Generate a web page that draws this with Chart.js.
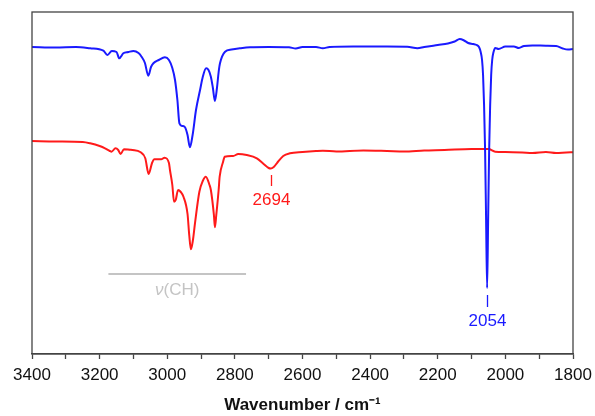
<!DOCTYPE html>
<html>
<head>
<meta charset="utf-8">
<script src="https://cdn.jsdelivr.net/npm/chart.js@4.4.1/dist/chart.umd.min.js"></script>
<style>
  html, body { margin: 0; padding: 0; background: #ffffff; }
  #wrap { width: 595px; height: 416px; }
</style>
</head>
<body>
<div id="wrap"><canvas id="irChart" width="595" height="416"></canvas></div>
<script>
// Upper trace (blue): wavenumber (cm-1) and offset signal (arb. units)
const blueWavenumbers = [3400, 3330, 3270, 3228, 3189, 3177, 3164, 3150, 3142, 3130, 3115, 3100, 3085, 3076, 3066, 3056, 3048, 3041, 3025, 3007,
  2995, 2985, 2977, 2970, 2964, 2955, 2948, 2940, 2933, 2925, 2915, 2903, 2895, 2885, 2878, 2871, 2865, 2859, 2853, 2848,
  2844, 2829, 2810, 2785, 2755, 2700, 2640, 2620, 2600, 2560, 2540, 2520, 2450, 2350, 2290, 2260, 2240, 2200, 2170, 2150,
  2135, 2122, 2110, 2095, 2085, 2078, 2073, 2069, 2066, 2063, 2060, 2057, 2054, 2051, 2048, 2045, 2042, 2039, 2035, 2030,
  2020, 2000, 1975, 1960, 1945, 1920, 1880, 1850, 1830, 1815, 1800];
const blueSignal = [307, 306.5, 307, 305.7, 303.3, 299, 303, 302, 295.7, 300.7, 302, 303, 301, 297.3, 291, 278.3, 287, 290.7, 294, 296.7,
  294, 286, 274, 254, 230.7, 228, 227, 219, 206.7, 219, 244, 264, 277, 285.7, 284, 277.3, 266, 253, 266, 282,
  290.7, 302.3, 304.5, 305.7, 306.7, 307, 306.7, 305.5, 307, 307, 305.7, 307, 307.5, 307.5, 307.3, 305.7, 307, 309, 310.5, 312.5,
  315, 313.5, 311, 310, 309, 307, 302, 294, 279, 249, 204, 134, 66, 134, 204, 249, 279, 294, 302, 306,
  305, 307.5, 307.5, 306, 308, 308.5, 308.3, 308, 305.5, 304.5, 305];

// Lower trace (red)
const redWavenumbers = [3400, 3330, 3250, 3228, 3200, 3184, 3170, 3165, 3153, 3145, 3138, 3128, 3110, 3103, 3080, 3065, 3055, 3045, 3038, 3018,
  3008, 2995, 2992, 2985, 2980, 2975, 2968, 2960, 2952, 2940, 2935, 2930, 2924, 2918, 2905, 2895, 2886, 2875, 2871, 2862,
  2859, 2855, 2848, 2845, 2835, 2830, 2805, 2790, 2765, 2735, 2715, 2700, 2694, 2685, 2676, 2657, 2637, 2600, 2560, 2540,
  2500, 2420, 2350, 2300, 2240, 2180, 2100, 2050, 2030, 2000, 1950, 1920, 1880, 1850, 1820, 1800];
const redSignal = [213, 212.5, 212, 210.7, 208, 205.7, 203, 202.3, 205.7, 204, 200, 204.7, 204.2, 204, 202, 195.7, 180, 191, 194.7, 194.7,
  196.3, 191, 184, 169, 152.3, 154, 164, 162, 157.3, 140, 119, 104.7, 114, 130.7, 162.3, 173, 177.3, 169, 164, 139,
  126.7, 139, 164, 177.3, 192, 197.3, 198, 200, 199, 195.7, 190, 186, 185.5, 187, 190.7, 198, 200.7, 202, 203, 203.3,
  202.5, 203.5, 203, 202.5, 203.5, 204, 205, 205, 202.3, 202, 201.5, 201, 202, 201, 201.5, 201.7];

// Band markers
const bandLabels = ['2694', '2054'];
const bandPositions = [2694, 2054];
const bandColors = ['#ff1a1a', '#1a1aff'];
const chRange = [3174, 2767];

// Axis ticks
const tickMin = 1800;
const tickMax = 3400;
const tickStep = 100;
const labelStep = 200;

const toPoints = (xs, ys) => xs.map((x, i) => ({ x: x, y: ys[i] }));

const FONT = '"Liberation Sans", Arial, Helvetica, sans-serif';

// Frame + band annotations
const annotate = {
  id: 'annotate',
  afterDatasetsDraw(chart) {
    const { ctx, chartArea: a, scales: { x, y } } = chart;
    ctx.save();

    // box around plot
    ctx.strokeStyle = '#444444';
    ctx.lineWidth = 1.3;
    ctx.strokeRect(a.left, a.top, a.right - a.left, a.bottom - a.top);

    ctx.font = '17px ' + FONT;
    ctx.textAlign = 'center';
    ctx.textBaseline = 'middle';
    ctx.lineWidth = 1.3;

    // 2694 (red)
    let px = Math.round(x.getPixelForValue(bandPositions[0])) + 0.5;
    ctx.strokeStyle = bandColors[0];
    ctx.beginPath();
    ctx.moveTo(px, y.getPixelForValue(179));
    ctx.lineTo(px, y.getPixelForValue(168));
    ctx.stroke();
    ctx.fillStyle = bandColors[0];
    ctx.fillText(bandLabels[0], px, y.getPixelForValue(154));

    // 2054 (blue)
    px = Math.round(x.getPixelForValue(bandPositions[1])) + 0.5;
    ctx.strokeStyle = bandColors[1];
    ctx.beginPath();
    ctx.moveTo(px, y.getPixelForValue(59));
    ctx.lineTo(px, y.getPixelForValue(47));
    ctx.stroke();
    ctx.fillStyle = bandColors[1];
    ctx.fillText(bandLabels[1], px, y.getPixelForValue(33));

    // v(CH) range
    const x1 = x.getPixelForValue(chRange[0]);
    const x2 = x.getPixelForValue(chRange[1]);
    const ly = y.getPixelForValue(80);
    ctx.strokeStyle = '#c4c4c4';
    ctx.lineWidth = 2;
    ctx.beginPath();
    ctx.moveTo(x1, ly);
    ctx.lineTo(x2, ly);
    ctx.stroke();

    const nu = '\u03BD';
    const rest = '(CH)';
    ctx.font = 'italic 17px ' + FONT;
    const w1 = ctx.measureText(nu).width;
    ctx.font = '17px ' + FONT;
    const w2 = ctx.measureText(rest).width;
    const cx = (x1 + x2) / 2;
    const ty = y.getPixelForValue(64);
    let sx = cx - (w1 + w2) / 2;
    ctx.fillStyle = '#c4c4c4';
    ctx.textAlign = 'left';
    ctx.font = 'italic 17px ' + FONT;
    ctx.fillText(nu, sx, ty);
    ctx.font = '17px ' + FONT;
    ctx.fillText(rest, sx + w1, ty);

    ctx.restore();
  }
};

new Chart(document.getElementById('irChart').getContext('2d'), {
  type: 'line',
  data: {
    datasets: [
      {
        label: 'blue',
        data: toPoints(blueWavenumbers, blueSignal),
        borderColor: '#1a1aff',
        borderWidth: 2,
        pointRadius: 0,
        cubicInterpolationMode: 'monotone'
      },
      {
        label: 'red',
        data: toPoints(redWavenumbers, redSignal),
        borderColor: '#ff1a1a',
        borderWidth: 2,
        pointRadius: 0,
        cubicInterpolationMode: 'monotone'
      }
    ]
  },
  options: {
    responsive: false,
    animation: false,
    events: [],
    layout: { padding: { left: 32, right: 22, top: 12, bottom: 0 } },
    plugins: {
      legend: { display: false },
      tooltip: { enabled: false }
    },
    scales: {
      x: {
        type: 'linear',
        reverse: true,
        min: tickMin,
        max: tickMax,
        afterFit(scale) { scale.height = 62; },
        afterBuildTicks(scale) {
          const t = [];
          for (let v = tickMin; v <= tickMax; v += tickStep) t.push({ value: v });
          scale.ticks = t;
        },
        border: { display: true, color: '#444444', width: 1.3 },
        grid: {
          drawOnChartArea: false,
          drawTicks: true,
          tickLength: 5,
          tickWidth: 1.3,
          color: '#444444'
        },
        ticks: {
          autoSkip: false,
          maxRotation: 0,
          padding: 6,
          color: '#111111',
          font: { family: FONT, size: 17 },
          callback: (v) => (v % labelStep === 0 ? String(v) : '')
        },
        title: {
          display: true,
          text: 'Wavenumber / cm\u207B\u00B9',
          color: '#111111',
          font: { family: FONT, size: 17, weight: 'bold' },
          padding: { top: 0, bottom: 0 }
        }
      },
      y: {
        display: false,
        min: 0,
        max: 342
      }
    }
  },
  plugins: [annotate]
});
</script>
</body>
</html>
